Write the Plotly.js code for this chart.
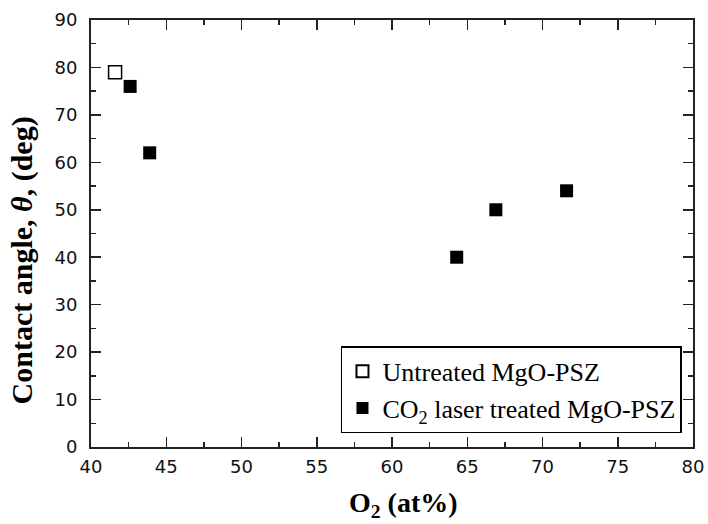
<!DOCTYPE html>
<html>
<head>
<meta charset="utf-8">
<script src="https://cdn.plot.ly/plotly-3.0.1.min.js"></script>
<style>
  html, body { margin: 0; padding: 0; background: #fff; }
  #chart { width: 708px; height: 524px; }
</style>
</head>
<body>
<div id="chart"></div>
<script>
// Contact angle vs. surface oxygen content
const untreatedO2 = [41.6];
const untreatedAngle = [79];
const laserO2 = [42.6, 43.9, 64.3, 66.9, 71.6];
const laserAngle = [76, 62, 40, 50, 54];

const xTicks = [40, 45, 50, 55, 60, 65, 70, 75, 80];
const yTicks = [0, 10, 20, 30, 40, 50, 60, 70, 80, 90];

const serif = 'Liberation Serif, Times New Roman, serif';
const sans = 'DejaVu Sans, Verdana, sans-serif';

const traces = [
  {
    x: untreatedO2, y: untreatedAngle,
    type: 'scatter', mode: 'markers',
    name: 'Untreated MgO-PSZ',
    marker: { symbol: 'square-open', size: 13, color: '#000', line: { width: 1.5, color: '#000' } }
  },
  {
    x: laserO2, y: laserAngle,
    type: 'scatter', mode: 'markers',
    name: 'CO<sub>2</sub> laser treated MgO-PSZ',
    marker: { symbol: 'square', size: 13, color: '#000' }
  }
];

const axisCommon = {
  showgrid: false, zeroline: false,
  showline: true, linecolor: '#222', linewidth: 2,
  mirror: 'allticks',
  ticks: 'inside', ticklen: 10, tickwidth: 1.5, tickcolor: '#222',
  tickfont: { family: sans, size: 18, color: '#111' }
};

const layout = {
  width: 708, height: 524,
  margin: { l: 91, r: 15, t: 20, b: 77 },
  paper_bgcolor: '#fff', plot_bgcolor: '#fff',
  showlegend: true,
  xaxis: Object.assign({}, axisCommon, {
    range: [40, 80], tickvals: xTicks, ticktext: xTicks.map(String),
    ticklabelstandoff: 2,
    minor: { dtick: 2.5, ticks: 'inside', ticklen: 5, tickwidth: 1.5, tickcolor: '#222' }
  }),
  yaxis: Object.assign({}, axisCommon, {
    range: [0, 90], tickvals: yTicks, ticktext: yTicks.map(String),
    ticklabelstandoff: 8,
    minor: { dtick: 5, ticks: 'inside', ticklen: 5, tickwidth: 1.5, tickcolor: '#222' }
  }),
  legend: {
    x: 0.9817, xanchor: 'right', y: 0.236, yanchor: 'top',
    bgcolor: '#fff', bordercolor: '#000', borderwidth: 1.5,
    font: { family: serif, size: 26, color: '#000' },
    itemsizing: 'constant',
    tracegroupgap: 0
  },
  annotations: [
    {
      xref: 'paper', yref: 'paper', x: -0.1146, y: 0.437,
      xanchor: 'center', yanchor: 'middle', textangle: -90, showarrow: false,
      text: '<b>Contact angle, <i>θ</i>, (deg)</b>',
      font: { family: serif, size: 30, color: '#000' }
    },
    {
      xref: 'paper', yref: 'paper', x: 0.5199, y: -0.1358,
      xanchor: 'center', yanchor: 'middle', showarrow: false,
      text: '<b>O<sub>2</sub> (at%)</b>',
      font: { family: serif, size: 28, color: '#000' }
    }
  ]
};

Plotly.newPlot('chart', traces, layout, { staticPlot: true, displayModeBar: false });
</script>
</body>
</html>
